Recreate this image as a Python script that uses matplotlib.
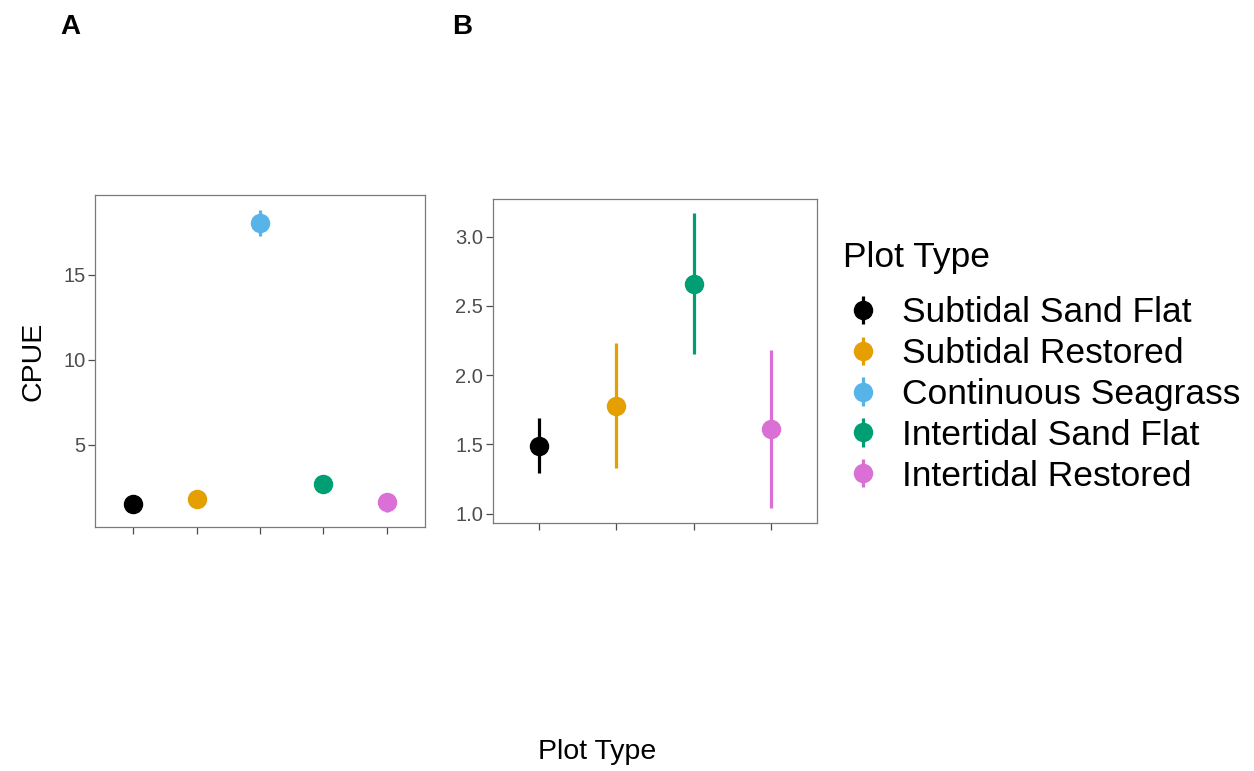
import matplotlib
matplotlib.use("Agg")
import matplotlib.pyplot as plt
from matplotlib.legend_handler import HandlerErrorbar

plt.rcParams['font.family'] = ['Liberation Sans', 'DejaVu Sans']

# data
plot_types = ["Subtidal Sand Flat", "Subtidal Restored", "Continuous Seagrass",
              "Intertidal Sand Flat", "Intertidal Restored"]
colors = ["black", "#E69F00", "#56B4E9", "#009E73", "#DA70D6"]

# panel A: all plot types
cpue_a = [1.49, 1.78, 18.07, 2.66, 1.61]
low_a = [1.29, 1.33, 17.30, 2.15, 1.04]
high_a = [1.69, 2.23, 18.80, 3.17, 2.18]

# panel B: without continuous seagrass
types_b = ["Subtidal Sand Flat", "Subtidal Restored",
           "Intertidal Sand Flat", "Intertidal Restored"]
cpue_b = [1.49, 1.78, 2.66, 1.61]
low_b = [1.29, 1.33, 2.15, 1.04]
high_b = [1.69, 2.23, 3.17, 2.18]

fig = plt.figure(figsize=(12.54, 7.71), dpi=100)
ax_a = fig.add_axes([0.0758, 0.3165, 0.2631, 0.4306])
ax_b = fig.add_axes([0.3929, 0.3213, 0.2589, 0.4202])

grey = "#4D4D4D"


def draw(ax, types, mid, lo, hi):
    handles = []
    for i, t in enumerate(types):
        c = colors[plot_types.index(t)]
        h = ax.errorbar([i + 1], [mid[i]], yerr=[[mid[i] - lo[i]], [hi[i] - mid[i]]],
                        fmt='o', color=c, ms=13, elinewidth=2.3, capsize=0,
                        label=t)
        handles.append(h)
    ax.set_xlim(0.4, len(types) + 0.6)
    ax.set_xticks(range(1, len(types) + 1))
    ax.set_xticklabels([])
    for s in ax.spines.values():
        s.set_color("#7a7a7a")
        s.set_linewidth(0.9)
    ax.tick_params(colors=grey, length=5, width=0.9, labelsize=14.5,
                   labelcolor=grey, pad=2)
    return handles


handles = draw(ax_a, plot_types, cpue_a, low_a, high_a)
ax_a.set_ylim(0.15, 19.7)
ax_a.set_yticks([5, 10, 15])
ax_a.set_ylabel("CPUE", fontsize=20.5, labelpad=12)

draw(ax_b, types_b, cpue_b, low_b, high_b)
ax_b.set_ylim(0.93, 3.27)
ax_b.set_yticks([1.0, 1.5, 2.0, 2.5, 3.0])
ax_b.set_yticklabels(["1.0", "1.5", "2.0", "2.5", "3.0"])

fig.text(0.0478, 0.965, "A", fontsize=20, fontweight='bold', ha='left', va='center')
fig.text(0.3605, 0.965, "B", fontsize=20, fontweight='bold', ha='left', va='center')
fig.text(0.476, 0.024, "Plot Type", fontsize=20.5, ha='center', va='center')

# legend title drawn separately to get the larger gap above the keys
fig.text(0.6722, 0.666, "Plot Type", fontsize=25.5, ha='left', va='center')
leg = fig.legend(handles=handles, labels=plot_types,
                 loc='upper left', bbox_to_anchor=(0.6738, 0.6156),
                 frameon=False, fontsize=25.5,
                 handlelength=1.0, handletextpad=0.62, labelspacing=0.22,
                 borderaxespad=0, borderpad=0,
                 handler_map={type(handles[0]): HandlerErrorbar(yerr_size=0.4)})

plt.savefig("out.png", dpi=100)
